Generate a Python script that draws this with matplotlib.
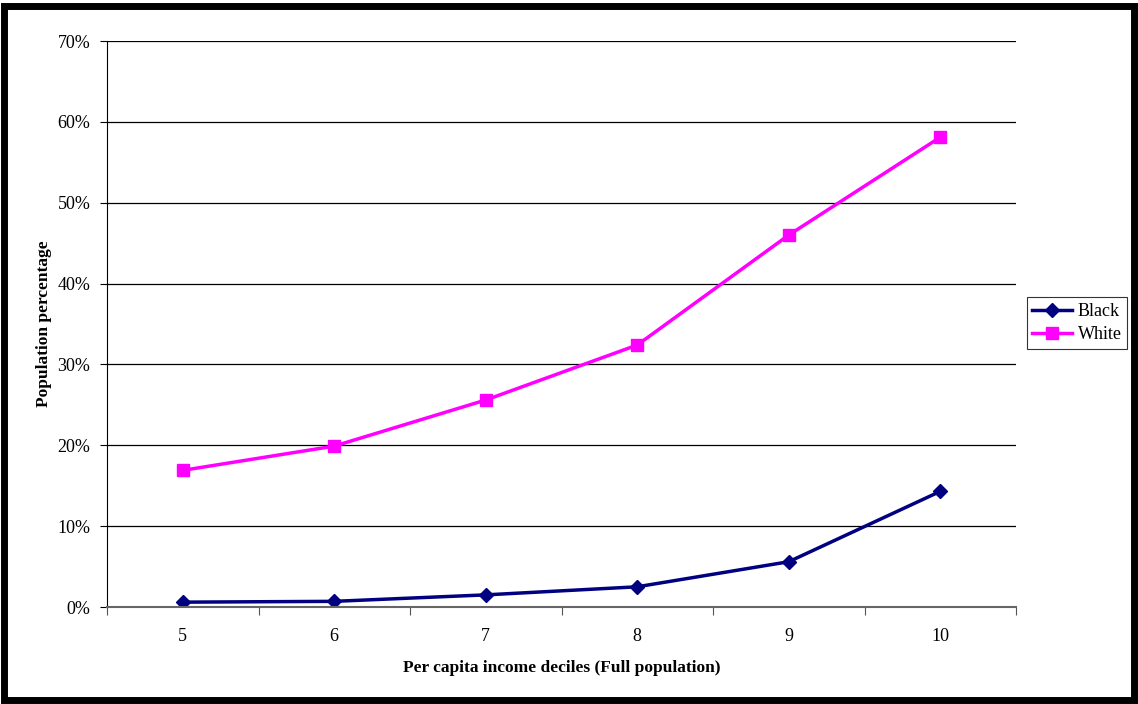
import matplotlib.pyplot as plt
from matplotlib.patches import Rectangle
from matplotlib.ticker import FuncFormatter, FixedLocator

deciles = [5, 6, 7, 8, 9, 10]
black = [0.6, 0.7, 1.5, 2.5, 5.6, 14.3]
white = [16.9, 19.9, 25.6, 32.4, 46.0, 58.1]

plt.rcParams['font.family'] = ['Liberation Serif', 'DejaVu Serif']

fig = plt.figure(figsize=(11.38, 7.04), dpi=100)
ax = fig.add_axes([107/1138, 1 - 607/704, (1016 - 107)/1138, (607 - 41)/704])

ax.plot(deciles, black, color='#000080', marker='D', markersize=7, linewidth=2.5, label='Black')
ax.plot(deciles, white, color='#FF00FF', marker='s', markersize=8, linewidth=2.5, label='White')

ax.set_xlim(4.5, 10.5)
ax.set_ylim(0, 70)
ax.set_yticks(range(0, 71, 10))
ax.yaxis.set_major_formatter(FuncFormatter(lambda v, p: f'{int(v)}%'))
ax.grid(axis='y', color='black', linewidth=0.9)
ax.set_axisbelow(True)

# category labels centred, tick marks on category boundaries
ax.xaxis.set_major_locator(FixedLocator([d - 0.5 for d in deciles] + [10.5]))
ax.xaxis.set_minor_locator(FixedLocator(deciles))
ax.set_xticklabels([])
ax.set_xticklabels([str(d) for d in deciles], minor=True)
ax.tick_params(axis='x', which='major', length=6, direction='out', color='#555555')
ax.tick_params(axis='x', which='minor', length=0, pad=15, labelsize=13)
ax.tick_params(axis='y', length=5, direction='out', labelsize=13, pad=7)

for s in ['top', 'right']:
    ax.spines[s].set_visible(False)
ax.spines['left'].set_color('black')
ax.spines['bottom'].set_color('#666666')
ax.spines['bottom'].set_linewidth(1.5)

ax.set_ylabel('Population percentage', fontsize=12.5, fontweight='bold', labelpad=4)
ax.set_xlabel('Per capita income deciles (Full population)', fontsize=12.5, fontweight='bold', labelpad=11)

leg = ax.legend(loc='center left', bbox_to_anchor=(1027/1138, 1 - 323/704),
                bbox_transform=fig.transFigure, fontsize=13, frameon=True,
                fancybox=False, edgecolor='black', handlelength=2.2,
                borderpad=0.3, labelspacing=0.35, handletextpad=0.3,
                borderaxespad=0)
leg.get_frame().set_linewidth(0.8)

fig.patches.append(Rectangle((0.0035, 0.005), 0.993, 0.986, transform=fig.transFigure,
                             fill=False, edgecolor='black', linewidth=5))

fig.savefig('out.png', dpi=100)
